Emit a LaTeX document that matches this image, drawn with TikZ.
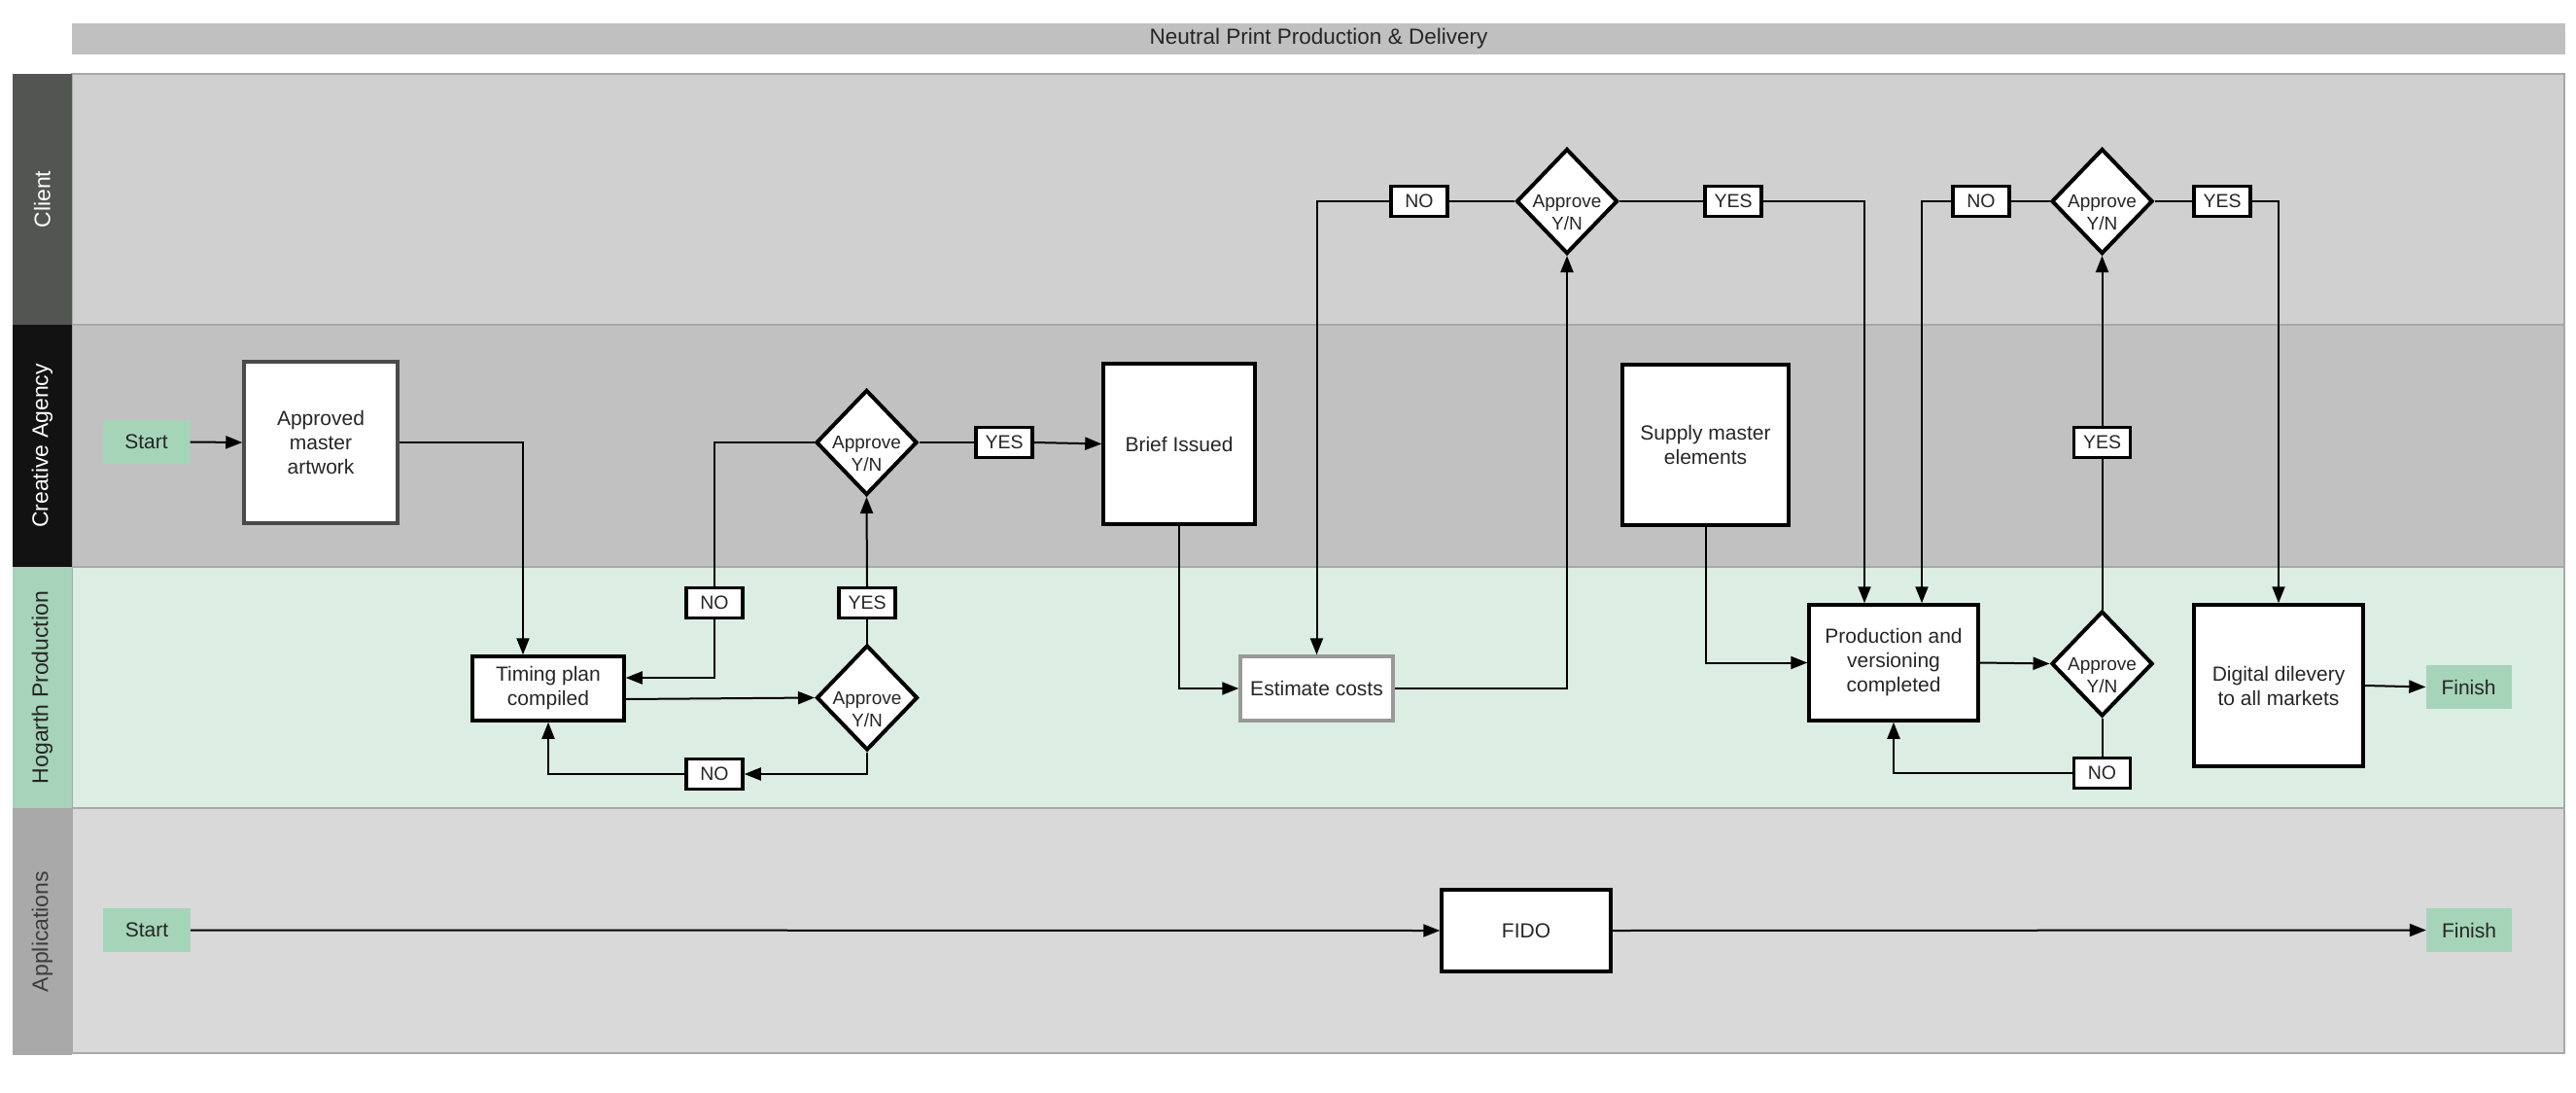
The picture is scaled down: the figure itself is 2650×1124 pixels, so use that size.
\documentclass[tikz,border=0pt]{standalone}
\usepackage{fontspec}
\setmainfont{Liberation Sans}
\usetikzlibrary{shapes.geometric,arrows.meta}
\definecolor{titlegray}{HTML}{C0C0C0}
\definecolor{clientbg}{HTML}{D0D0D0}
\definecolor{agencybg}{HTML}{C1C1C1}
\definecolor{hogarthbg}{HTML}{DCEDE3}
\definecolor{appsbg}{HTML}{D9D9D9}
\definecolor{clientlab}{HTML}{535553}
\definecolor{agencylab}{HTML}{121212}
\definecolor{hogarthlab}{HTML}{A6D3B9}
\definecolor{appslab}{HTML}{A9A9A9}
\definecolor{termgreen}{HTML}{A6D4B9}
\definecolor{txt}{HTML}{262626}
\definecolor{apprgray}{HTML}{4A4A4A}
\definecolor{estgray}{HTML}{999999}
\definecolor{lanebord}{HTML}{A8A8A8}
\begin{document}
\begin{tikzpicture}[x=1pt,y=-1pt,
  box/.style={draw=black, line width=3.5pt, fill=white, inner sep=0pt, align=center,
    font=\fontsize{21}{25}\selectfont, text=txt},
  term/.style={fill=termgreen, inner sep=0pt, minimum width=90pt, minimum height=45pt,
    font=\fontsize{21}{25}\selectfont, text=txt},
  dia/.style={diamond, draw=black, line width=4pt, fill=white, inner sep=0pt,
    minimum width=104pt, minimum height=108pt},
  dtext/.style={align=center, font=\fontsize{19}{23}\selectfont, text=txt, yshift=-12pt},
  yn/.style={draw=black, line width=3.5pt, fill=white, inner sep=0pt, minimum width=58pt,
    minimum height=31pt, font=\fontsize{19.5}{22}\selectfont, text=txt},
  con/.style={line width=2pt, draw=black},
  arr/.style={con, -{Triangle[length=17pt,width=13pt]}},
  lanelabel/.style={rotate=90, font=\fontsize{23}{27}\selectfont}
]
\useasboundingbox (0,0) rectangle (2650,1124);
\fill[white] (0,0) rectangle (2650,1124);

% title bar
\node[fill=titlegray, minimum width=2565pt, minimum height=32pt, inner sep=0pt,
  font=\fontsize{22.5}{26}\selectfont, text=txt] (title) at (1356.5,40) {Neutral Print Production \& Delivery};

% lanes
\fill[clientbg] (74,76) rectangle (2638,334);
\fill[agencybg] (74,334) rectangle (2638,583);
\fill[hogarthbg] (74,583) rectangle (2638,831);
\fill[appsbg] (74,831) rectangle (2638,1083);
\draw[lanebord, line width=1.5pt] (74,76) rectangle (2638,334);
\draw[lanebord, line width=1.5pt] (74,334) rectangle (2638,583);
\draw[lanebord, line width=1.5pt] (74,583) rectangle (2638,831);
\draw[lanebord, line width=1.5pt] (74,831) rectangle (2638,1083);
\fill[clientlab] (13,76) rectangle (74,334);
\fill[agencylab] (13,334) rectangle (74,583);
\fill[hogarthlab] (13,583) rectangle (74,831);
\fill[appslab] (13,831) rectangle (74,1085);
\node[lanelabel, text=white] (lclient) at (43.5,205) {Client};
\node[lanelabel, text=white] (lagency) at (43.5,458.5) {Creative Agency};
\node[lanelabel, text=txt] (lhogarth) at (43.5,707) {Hogarth Production};
\node[lanelabel, text=txt!90] (lapps) at (43.5,958) {Applications};

% Creative agency lane
\node[term] (s1) at (150.5,454.5) {Start};
\node[box, draw=apprgray, minimum width=158pt, minimum height=166pt] (appr) at (330,455) {Approved\\master\\artwork};
\node[dia, label={[dtext]center:Approve\\Y/N}] (dA) at (891.5,455) {};
\node[yn] (yes1) at (1033,455) {YES};
\node[box, minimum width=156pt, minimum height=165pt] (brief) at (1213,456.5) {Brief Issued};
\node[box, minimum width=171pt, minimum height=165pt] (sup) at (1754.5,457.5) {Supply master\\elements};
\node[yn] (yesc) at (2162.5,455) {YES};

% Hogarth lane
\node[box, minimum width=156pt, minimum height=66pt] (timing) at (564,708) {Timing plan\\compiled};
\node[yn] (noa) at (735,620) {NO};
\node[yn] (yesa) at (892,620) {YES};
\node[dia, label={[dtext]center:Approve\\Y/N}] (dB) at (892,717.5) {};
\node[yn] (nob) at (735,796) {NO};
\node[box, draw=estgray, minimum width=157pt, minimum height=66pt] (est) at (1354.5,708) {Estimate costs};
\node[box, minimum width=174pt, minimum height=119pt] (prod) at (1948,681.5) {Production and\\versioning\\completed};
\node[dia, label={[dtext]center:Approve\\Y/N}] (dC) at (2162.5,682.5) {};
\node[yn] (noc) at (2162.5,795) {NO};
\node[box, minimum width=174pt, minimum height=166pt] (dig) at (2344,705) {Digital dilevery\\to all markets};
\node[term, minimum width=88pt] (f1) at (2539.5,706.5) {Finish};

% Client lane
\node[dia, label={[dtext]center:Approve\\Y/N}] (dc1) at (1612,207) {};
\node[yn] (no1) at (1460,207) {NO};
\node[yn] (yes2) at (1783,207) {YES};
\node[dia, label={[dtext]center:Approve\\Y/N}] (dc2) at (2162.5,207) {};
\node[yn] (no2) at (2038,207) {NO};
\node[yn] (yes3) at (2286,207) {YES};

% Applications lane
\node[term] (s2) at (151,956.5) {Start};
\node[box, minimum width=174pt, minimum height=84pt] (fido) at (1570,957) {FIDO};
\node[term, minimum width=88pt] (f2) at (2540,956.5) {Finish};

% connectors
\draw[arr] (s1.east) -- (appr.west);
\draw[arr] (appr.east) -| ([xshift=-26pt]timing.north);
\draw[con] (dA.west) -| (noa.north);
\draw[arr] (noa.south) |- ([yshift=11pt]timing.east);
\draw[arr] ([yshift=-11pt]timing.east) -- (dB.west);
\draw[con] (dB.north) -- (yesa.south);
\draw[arr] (yesa.north) -- (dA.south);
\draw[arr] (dB.south) |- (nob.east);
\draw[arr] (nob.west) -| (timing.south);
\draw[con] (dA.east) -- (yes1.west);
\draw[arr] (yes1.east) -- (brief.west);
\draw[arr] (brief.south) |- (est.west);
\draw[arr] (est.east) -| (dc1.south);
\draw[con] (dc1.west) -- (no1.east);
\draw[arr] (no1.west) -| (est.north);
\draw[con] (dc1.east) -- (yes2.west);
\draw[arr] (yes2.east) -| ([xshift=-30pt]prod.north);
\draw[con] (dc2.west) -- (no2.east);
\draw[arr] (no2.west) -| ([xshift=29pt]prod.north);
\draw[con] (dc2.east) -- (yes3.west);
\draw[arr] (yes3.east) -| (dig.north);
\draw[arr] (sup.south) |- (prod.west);
\draw[arr] (prod.east) -- (dC.west);
\draw[con] (dC.north) -- (yesc.south);
\draw[arr] (yesc.north) -- (dc2.south);
\draw[con] (dC.south) -- (noc.north);
\draw[arr] (noc.west) -| (prod.south);
\draw[arr] (dig.east) -- (f1.west);
\draw[arr] (s2.east) -- (fido.west);
\draw[arr] (fido.east) -- (f2.west);
\end{tikzpicture}
\end{document}
